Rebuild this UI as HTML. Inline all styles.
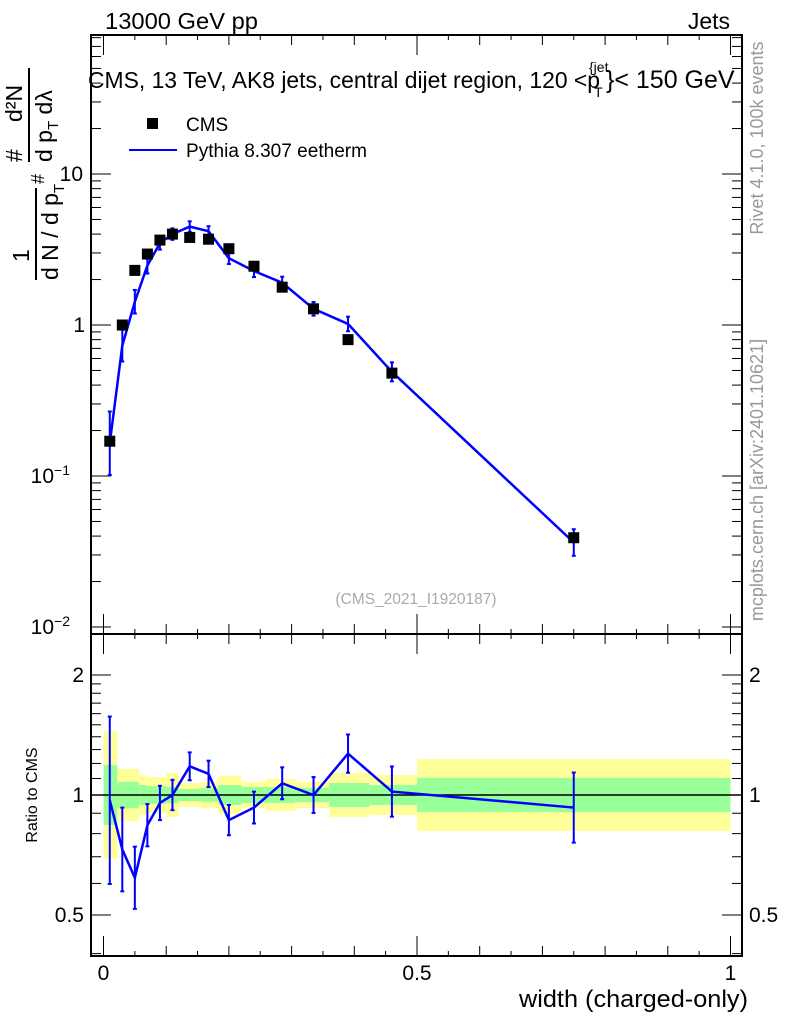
<!DOCTYPE html>
<html><head><meta charset="utf-8"><style>
html,body{margin:0;padding:0;background:#fff}
svg{display:block;font-family:"Liberation Sans",sans-serif}
</style></head><body>
<svg id="c" width="786" height="1024" viewBox="0 0 786 1024" xmlns="http://www.w3.org/2000/svg">
<text x="105" y="29" font-size="23" textLength="153" lengthAdjust="spacingAndGlyphs">13000 GeV pp</text>
<text x="730" y="29" font-size="23" text-anchor="end">Jets</text>
<g font-size="23">
<text x="88" y="88" textLength="512" lengthAdjust="spacingAndGlyphs">CMS, 13 TeV, AK8 jets, central dijet region, 120 &lt;p</text>
<text x="589" y="72" font-size="14">{jet</text>
<text x="594" y="97" font-size="14">T</text>
<text x="606" y="88" font-size="25">}&lt; 150 GeV</text>
</g>
<text x="416" y="604" font-size="15.5" fill="#aaa" text-anchor="middle">(CMS_2021_I1920187)</text>
<text transform="translate(763,138) rotate(-90)" font-size="18" fill="#999" text-anchor="middle">Rivet 4.1.0,  100k events</text>
<text transform="translate(763,480) rotate(-90)" font-size="18" fill="#999" text-anchor="middle">mcplots.cern.ch [arXiv:2401.10621]</text>
<g transform="translate(42,150) rotate(-90)" font-size="23">
<text x="-112" y="-13">1</text>
<line x1="-130" y1="-6" x2="-38" y2="-6" stroke="#000" stroke-width="2"/>
<text x="-130" y="16">d N / d p<tspan font-size="15" dy="6">T</tspan></text>
<text x="-34" y="2" font-size="18">#</text>
<text x="-12" y="-20">#</text>
<text x="28" y="-20">d²N</text>
<line x1="-12" y1="-13" x2="82" y2="-13" stroke="#000" stroke-width="2"/>
<text x="-12" y="10">d p<tspan font-size="15" dy="6">T</tspan><tspan dy="-6"> dλ</tspan></text>
</g>
<text transform="translate(37,795) rotate(-90)" font-size="16" text-anchor="middle">Ratio to CMS</text>
<text x="748" y="1007" font-size="24" text-anchor="end" textLength="229" lengthAdjust="spacingAndGlyphs">width (charged-only)</text>
<g id="bands"></g><g id="axes"></g><g id="marks"></g>
<g>
<rect x="147" y="118" width="11" height="11" fill="#000"/>
<text x="186" y="131" font-size="19">CMS</text>
<line x1="129" y1="150" x2="177" y2="150" stroke="#0000ff" stroke-width="2"/>
<text x="186" y="157" font-size="19" textLength="181" lengthAdjust="spacingAndGlyphs">Pythia 8.307 eetherm</text>
</g>
</svg>
<script>
const xs=[0.01,0.03,0.05,0.07,0.09,0.11,0.1375,0.1675,0.2,0.24,0.285,0.335,0.39,0.46,0.75];
const cms=[0.17,1.0,2.3,2.95,3.65,4.0,3.8,3.7,3.2,2.45,1.78,1.28,0.8,0.48,0.039];
const ratio=[0.97,0.73,0.62,0.84,0.955,1.0,1.18,1.13,0.865,0.93,1.07,1.0,1.27,1.02,0.93];
const ratioErrDex=[0.21,0.105,0.078,0.053,0.043,0.038,0.035,0.033,0.038,0.04,0.04,0.045,0.048,0.063,0.088];
const binEdges=[0,0.022,0.057,0.07,0.1,0.12,0.155,0.183,0.22,0.258,0.306,0.36,0.424,0.5,1.0];
const greenDex=[0.075,0.033,0.025,0.022,0.02,0.015,0.017,0.025,0.02,0.02,0.018,0.03,0.025,0.043];
const yellowDex=[0.16,0.065,0.05,0.045,0.055,0.03,0.033,0.048,0.033,0.04,0.033,0.055,0.05,0.09];
const xTicksMajor=[0,0.5,1];const xTickLabels=["0","0.5","1"];
const NS="http://www.w3.org/2000/svg";
const L=91,R=742,T=35,M=634,B=956;
const X=v=>103.5+627*v;
const Y=v=>325-151*Math.log10(v);
const RY=r=>795-398.6*Math.log10(r);
function el(p,t,a){const e=document.createElementNS(NS,t);for(const k in a)e.setAttribute(k,a[k]);p.appendChild(e);return e;}
const bands=document.getElementById('bands'),axes=document.getElementById('axes'),marks=document.getElementById('marks');
for(let i=0;i<binEdges.length-1;i++){
 const x0=X(binEdges[i]),x1=X(binEdges[i+1]);
 let r=el(bands,'rect',{x:x0,y:795-398.6*yellowDex[i],width:x1-x0,height:2*398.6*yellowDex[i],fill:'#ffff99'});
 
 
 r=el(bands,'rect',{x:x0,y:795-398.6*greenDex[i],width:x1-x0,height:2*398.6*greenDex[i],fill:'#99ff99'});
 
 
}
el(axes,'rect',{x:L,y:T,width:R-L,height:B-T,fill:'none',stroke:'#000','stroke-width':2});
el(axes,'line',{x1:L,y1:M,x2:R,y2:M,stroke:'#000','stroke-width':2});
el(axes,'line',{x1:L,y1:795,x2:R,y2:795,stroke:'#000','stroke-width':1.5});
for(let k=0;k<=20;k++){const v=k*0.05,x=X(v),len=k%10==0?20:(k%2==0?10:5);
 for(const [y,d] of [[T,1],[M,-1],[M,1],[B,-1]]) el(axes,'line',{x1:x,y1:y,x2:x,y2:y+d*len,stroke:'#000','stroke-width':1});}
xTicksMajor.forEach((v,i)=>{const t=el(axes,'text',{x:X(v),y:980,'font-size':21,'text-anchor':'middle'});t.textContent=xTickLabels[i];
 
 });
for(let d=-2;d<=1;d++)for(let m=1;m<=9;m++){const v=m*Math.pow(10,d),y=Y(v);if(y<T||y>M)continue;const len=m==1?20:10;
 el(axes,'line',{x1:L,y1:y,x2:L+len,y2:y,stroke:'#000'});el(axes,'line',{x1:R,y1:y,x2:R-len,y2:y,stroke:'#000'});}
const yLab=[["10","−2",0.01],["10","−1",0.1],["1","",1],["10","",10]];
yLab.forEach(a=>{const t=el(axes,'text',{x:a[1]?70:(a[0]=="1"?85:83),y:Y(a[2])+7,'font-size':21,'text-anchor':'end'});
 t.textContent=a[0];if(a[1]){const s=el(t,'tspan',{'font-size':14,dy:-8});s.textContent=a[1];}
 
 });
for(const v of [0.4,0.5,0.6,0.7,0.8,0.9,1,1.1,1.2,1.3,1.4,1.5,1.6,1.7,1.8,1.9,2,3]){const y=RY(v);if(y<M||y>B)continue;const len=(v==0.5||v==1||v==2)?20:10;
 el(axes,'line',{x1:L,y1:y,x2:L+len,y2:y,stroke:'#000'});el(axes,'line',{x1:R,y1:y,x2:R-len,y2:y,stroke:'#000'});}
[["2",2],["1",1],["0.5",0.5]].forEach(a=>{for(const [x,anc] of [[84,'end'],[749,'start']]){const t=el(axes,'text',{x:x,y:RY(a[1])+7,'font-size':21,'text-anchor':anc});t.textContent=a[0];
 
 }});
const mc=cms.map((c,i)=>c*ratio[i]);
const mcPts=xs.map((x,i)=>X(x)+','+Y(mc[i])).join(' ');
let pl=el(marks,'polyline',{points:mcPts,fill:'none',stroke:'#0000ff','stroke-width':2.5});


xs.forEach((x,i)=>{const h=151*ratioErrDex[i];const y1=Y(mc[i])-h,y2=Y(mc[i])+h,cx=X(x);
 const g=el(marks,'g',{stroke:'#0000ff','stroke-width':2});
 
 
 el(g,'line',{x1:cx,y1:y1,x2:cx,y2:y2});el(g,'line',{x1:cx-2,y1:y1,x2:cx+2,y2:y1});el(g,'line',{x1:cx-2,y1:y2,x2:cx+2,y2:y2});});
xs.forEach((x,i)=>{const r=el(marks,'rect',{x:X(x)-5.5,y:Y(cms[i])-5.5,width:11,height:11,fill:'#000'});
 
 });
const rPts=xs.map((x,i)=>X(x)+','+RY(ratio[i])).join(' ');
pl=el(marks,'polyline',{points:rPts,fill:'none',stroke:'#0000ff','stroke-width':2.5});


xs.forEach((x,i)=>{const cy=RY(ratio[i]),h=398.6*ratioErrDex[i],cx=X(x);
 const g=el(marks,'g',{stroke:'#0000ff','stroke-width':2});
 
 
 el(g,'line',{x1:cx,y1:cy-h,x2:cx,y2:cy+h});el(g,'line',{x1:cx-2,y1:cy-h,x2:cx+2,y2:cy-h});el(g,'line',{x1:cx-2,y1:cy+h,x2:cx+2,y2:cy+h});});
</script>
</body></html>
